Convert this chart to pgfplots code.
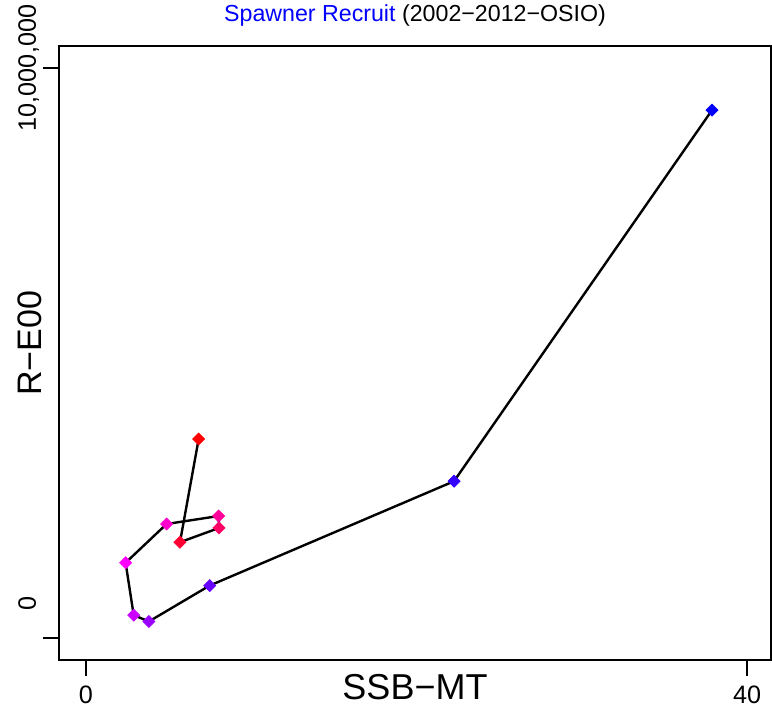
\documentclass[border=0pt]{standalone}
\usepackage{pgfplots}
\pgfplotsset{compat=1.18}
\usepackage{fontspec}
\setmainfont{Liberation Sans}

% point colours, red (2002) to blue (2012)
\definecolor{c1}{RGB}{255,0,0}
\definecolor{c2}{RGB}{255,0,51}
\definecolor{c3}{RGB}{255,0,102}
\definecolor{c4}{RGB}{255,0,153}
\definecolor{c5}{RGB}{255,0,204}
\definecolor{c6}{RGB}{255,0,255}
\definecolor{c7}{RGB}{204,0,255}
\definecolor{c8}{RGB}{153,0,255}
\definecolor{c9}{RGB}{102,0,255}
\definecolor{c10}{RGB}{51,0,255}
\definecolor{c11}{RGB}{0,0,255}

\begin{document}
\begin{tikzpicture}
\begin{axis}[
    scale only axis,
    width=356pt, height=307pt,
    xmin=-1.63, xmax=41.45,
    ymin=-386000, ymax=10386000,
    axis line style={line width=1pt},
    tick align=outside,
    xtick pos=bottom, ytick pos=left,
    major tick length=8pt,
    tick style={line width=1pt, black},
    xtick={0,40},
    ytick={0,10000000},
    scaled y ticks=false,
    yticklabels={\hspace*{34pt}0,{10,000,000}},
    tick label style={font=\fontsize{12.6}{14}\selectfont},
    yticklabel style={rotate=90, anchor=base, inner sep=0pt, yshift=3.5pt},
    xticklabel style={anchor=north, inner sep=0pt, yshift=-5pt},
    /pgf/number format/assume math mode=true,
    title={\textcolor{blue}{Spawner Recruit} (2002−2012−OSIO)},
    title style={font=\fontsize{11.6}{13}\selectfont, at={(axis description cs:0.5,1)}, anchor=base, yshift=6pt, inner sep=0pt},
    xlabel={SSB−MT},
    ylabel={R−E00},
    xlabel style={font=\fontsize{18}{20}\selectfont, at={(axis description cs:0.5,0)}, anchor=base, yshift=-20pt, inner sep=0pt},
    ylabel style={font=\fontsize{17}{20}\selectfont, at={(axis description cs:0,0.516)}, anchor=base, yshift=8.5pt, inner sep=0pt},
    clip=false,
]
\addplot[black, line width=1.2pt, no marks] table {
x y
6.82 3490000
5.69 1680000
8.05 1930000
8.03 2140000
4.88 2000000
2.40 1320000
2.89 400000
3.81 290000
7.49 920000
22.27 2750000
37.88 9260000
};
\addplot[
    scatter, only marks,
    mark options={rotate=45},
    scatter/classes={
        a={mark=square*, c1, mark size=2.1pt},
        b={mark=square*, c2, mark size=2.1pt},
        c={mark=square*, c3, mark size=2.1pt},
        d={mark=square*, c4, mark size=2.1pt},
        e={mark=square*, c5, mark size=2.1pt},
        f={mark=square*, c6, mark size=2.1pt},
        g={mark=square*, c7, mark size=2.1pt},
        h={mark=square*, c8, mark size=2.1pt},
        i={mark=square*, c9, mark size=2.1pt},
        j={mark=square*, c10, mark size=2.1pt},
        k={mark=square*, c11, mark size=2.1pt}},
    point meta=explicit symbolic,
] table[meta=cls] {
x y cls
6.82 3490000 a
5.69 1680000 b
8.05 1930000 c
8.03 2140000 d
4.88 2000000 e
2.40 1320000 f
2.89 400000 g
3.81 290000 h
7.49 920000 i
22.27 2750000 j
37.88 9260000 k
};
\end{axis}
\pgfresetboundingbox
\path (-29.5pt,-25.5pt) rectangle (356.5pt,330pt);
\end{tikzpicture}
\end{document}
